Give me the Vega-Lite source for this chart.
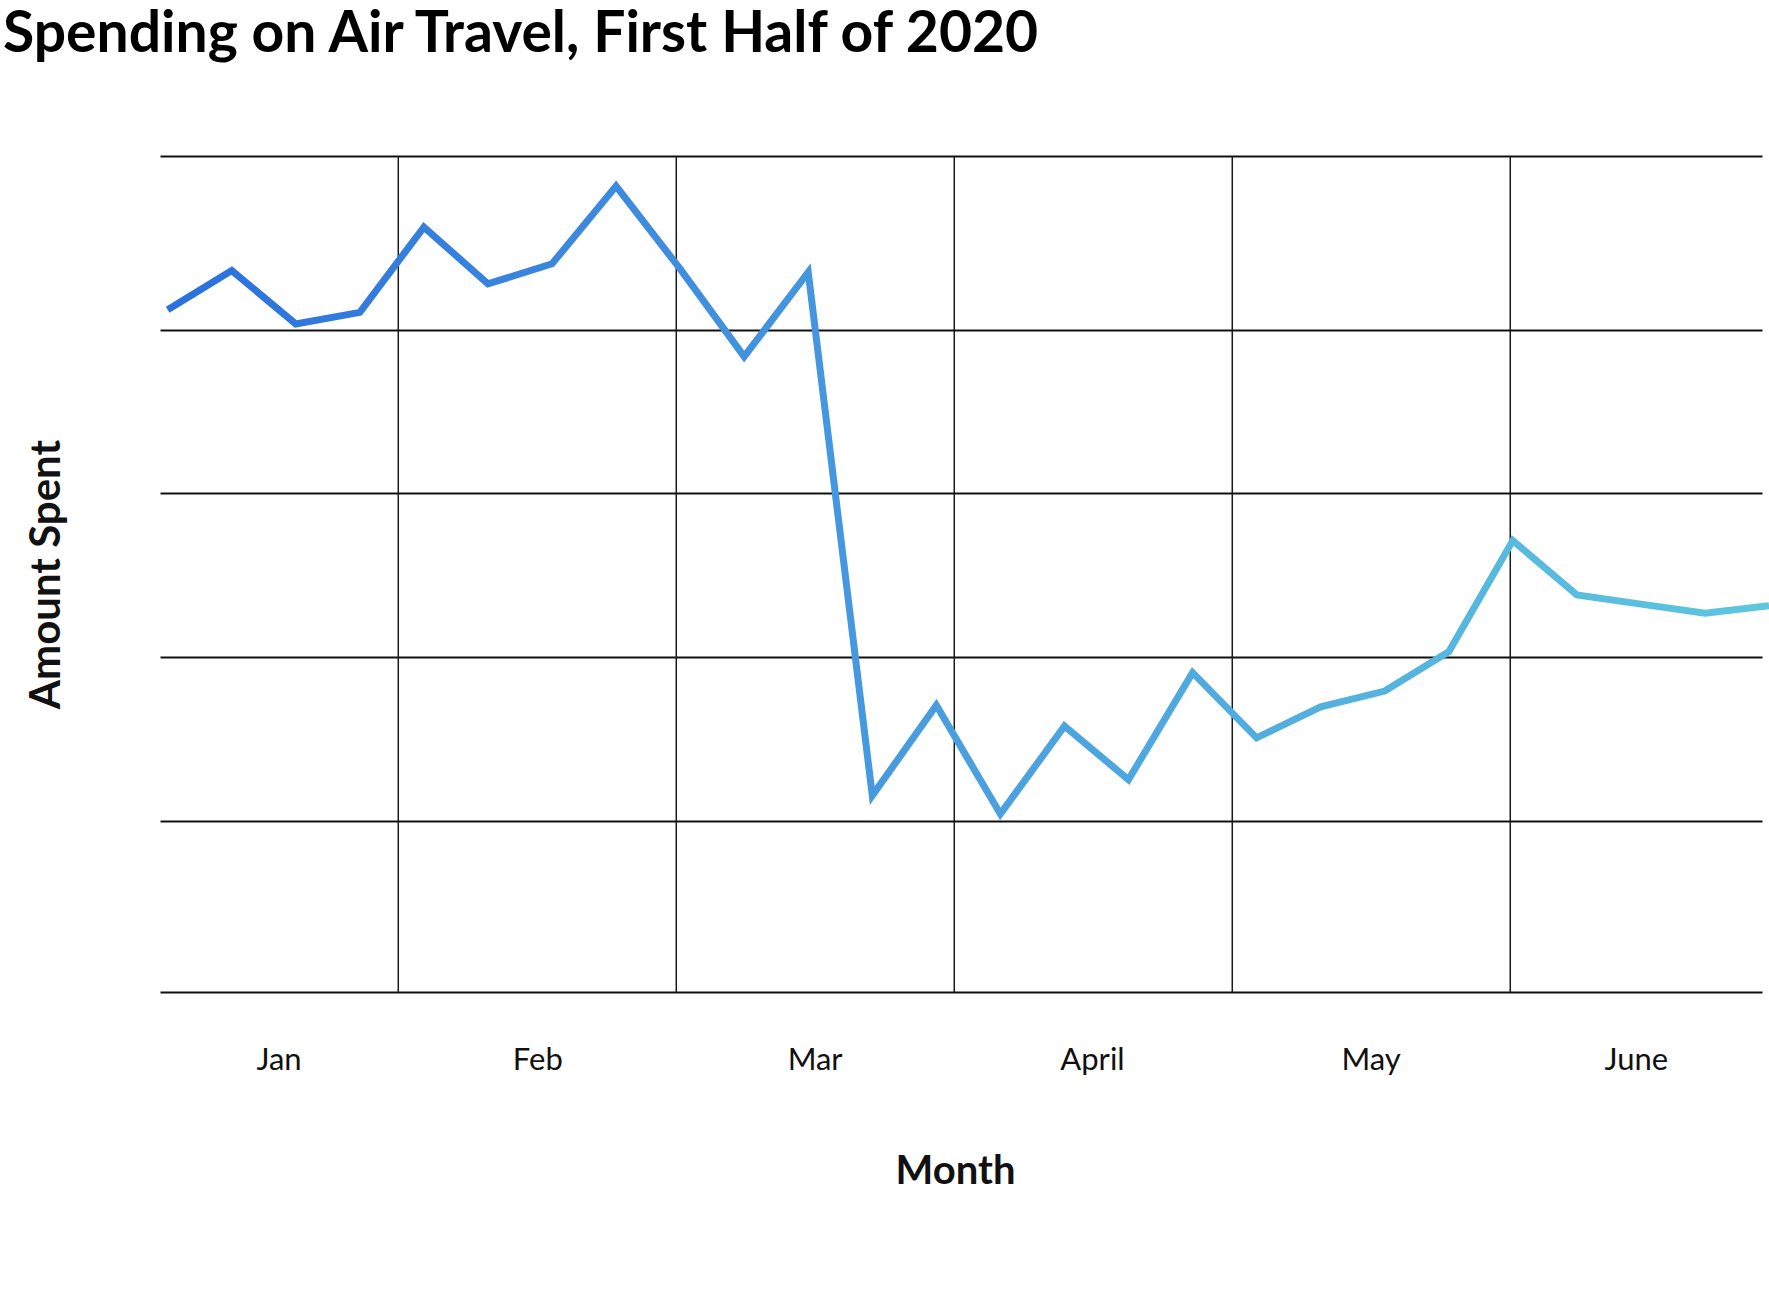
{
  "$schema": "https://vega.github.io/schema/vega-lite/v6.json",
  "width": 1602,
  "height": 836,
  "autosize": "none",
  "padding": {"left": 160, "top": 156, "right": 7, "bottom": 303},
  "background": "white",
  "config": {"view": {"stroke": null}, "font": "Lato"},
  "title": {
    "text": "Spending on Air Travel, First Half of 2020",
    "anchor": "start",
    "frame": "group",
    "dx": -157,
    "dy": 62,
    "offset": 108,
    "baseline": "alphabetic",
    "font": "Lato",
    "fontSize": 57,
    "fontWeight": "bold",
    "color": "#000000"
  },
  "datasets": {
    "spend": [
      {"week": 0, "amount": 81.6},
      {"week": 1, "amount": 86.3},
      {"week": 2, "amount": 79.9},
      {"week": 3, "amount": 81.3},
      {"week": 4, "amount": 91.5},
      {"week": 5, "amount": 84.7},
      {"week": 6, "amount": 87.1},
      {"week": 7, "amount": 96.4},
      {"week": 8, "amount": 86.5},
      {"week": 9, "amount": 76.0},
      {"week": 10, "amount": 86.1},
      {"week": 11, "amount": 23.5},
      {"week": 12, "amount": 34.3},
      {"week": 13, "amount": 21.3},
      {"week": 14, "amount": 31.8},
      {"week": 15, "amount": 25.4},
      {"week": 16, "amount": 38.2},
      {"week": 17, "amount": 30.4},
      {"week": 18, "amount": 34.1},
      {"week": 19, "amount": 36.0},
      {"week": 20, "amount": 40.7},
      {"week": 21, "amount": 54.0},
      {"week": 22, "amount": 47.5},
      {"week": 23, "amount": 46.4},
      {"week": 24, "amount": 45.3},
      {"week": 25, "amount": 46.2}
    ],
    "bounds": [
      {"week": 3.6},
      {"week": 7.94},
      {"week": 12.28},
      {"week": 16.62},
      {"week": 20.96}
    ]
  },
  "encoding": {
    "x": {
      "field": "week", "type": "quantitative",
      "scale": {"domain": [-0.12, 24.89], "nice": false, "zero": false},
      "axis": {
        "values": [1.73, 5.77, 10.1, 14.43, 18.78, 22.92],
        "labelExpr": "datum.value < 3 ? 'Jan' : datum.value < 7 ? 'Feb' : datum.value < 12 ? 'Mar' : datum.value < 16 ? 'April' : datum.value < 20 ? 'May' : 'June'",
        "grid": false, "ticks": false, "domain": false,
        "labelFont": "Lato", "labelFontSize": 31, "labelColor": "#111111",
        "labelPadding": 53, "labelBaseline": "top",
        "title": "Month", "titleFont": "Lato", "titleFontSize": 40, "titleFontWeight": "bold",
        "titleColor": "#111111", "titlePadding": 76, "titleX": 795
      }
    }
  },
  "layer": [
    {
      "data": {"name": "bounds"},
      "mark": {"type": "rule", "color": "#1a1a1a", "strokeWidth": 1.5}
    },
    {
      "data": {"name": "spend"},
      "mark": {
        "type": "line",
        "strokeWidth": 7,
        "clip": false,
        "strokeJoin": "miter",
        "color": {
          "gradient": "linear",
          "x1": 0, "y1": 0, "x2": 1, "y2": 0,
          "stops": [
            {"offset": 0, "color": "#2b70dc"},
            {"offset": 0.5, "color": "#4a9fdf"},
            {"offset": 1, "color": "#5ec6de"}
          ]
        }
      },
      "encoding": {
        "y": {
          "field": "amount", "type": "quantitative",
          "scale": {"domain": [0, 100], "nice": false, "zero": false},
          "axis": {
            "values": [0, 20.42, 40.03, 59.65, 79.22, 100],
            "grid": true, "gridColor": "#111111", "gridWidth": 2, "gridOpacity": 1,
            "labels": false, "ticks": false, "domain": false,
            "title": "Amount Spent", "titleFont": "Lato", "titleFontSize": 42, "titleFontWeight": "bold",
            "titleColor": "#111111", "titlePadding": 92
          }
        }
      }
    }
  ]
}
